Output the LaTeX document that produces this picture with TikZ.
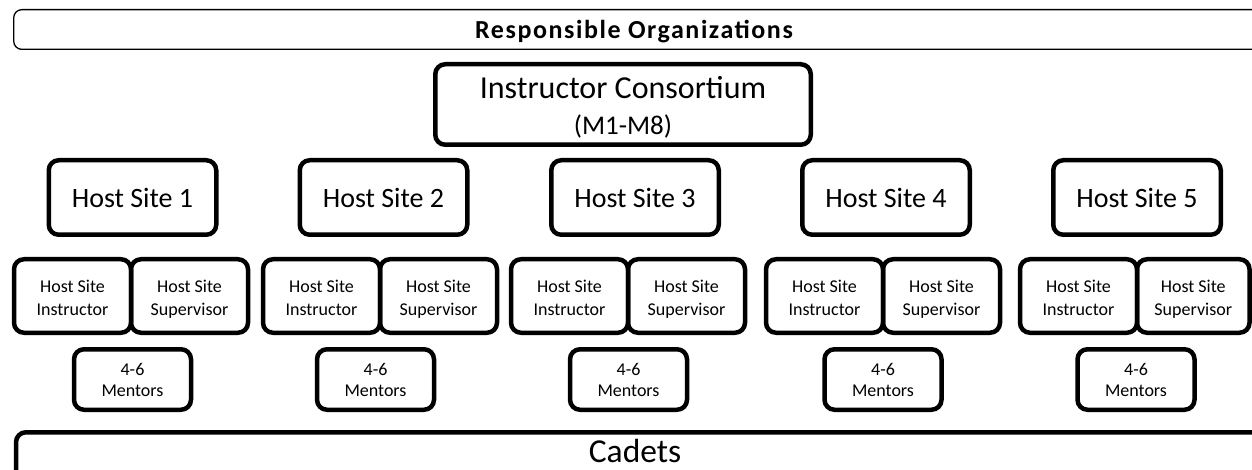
\documentclass[tikz,border=0pt]{standalone}
\usepackage{fontspec}
\setmainfont{Carlito}
\newfontfamily\titlefont[LetterSpace=6]{Carlito}
\begin{document}
\begin{tikzpicture}[x=1pt,y=-1pt,
  box/.style={draw, line width=4.5pt, rounded corners=10pt, inner sep=0pt, align=center},
  sitebox/.style={box, font=\fontsize{28pt}{32pt}\selectfont,
    minimum width=167.5pt, minimum height=74.5pt, text height=24pt, text depth=3pt},
  rolebox/.style={box, font=\fontsize{18pt}{22.3pt}\selectfont,
    minimum width=117pt, minimum height=73.5pt, text height=44pt, text depth=6pt},
  mentorbox/.style={box, font=\fontsize{18pt}{21pt}\selectfont,
    minimum width=117pt, minimum height=60.5pt, text height=38pt, text depth=5pt}]
\useasboundingbox (0,0) rectangle (1252,470);

% top banner
\node[draw, line width=1.3pt, rounded corners=8pt, inner sep=0pt,
      minimum width=1248.5pt, minimum height=39.7pt,
      text height=24pt, text depth=5pt,
      font=\fontsize{26pt}{30pt}\titlefont\bfseries]
  (resp) at (638,29.5) {\hspace*{-8pt}Responsible Organizations};

% consortium
\node[box, minimum width=375.5pt, minimum height=80.5pt,
      text height=66pt, text depth=5pt,
      font=\fontsize{32pt}{36pt}\selectfont] (cons) at (623,104.5)
  {Instructor Consortium\\
   {\fontsize{27pt}{36pt}\selectfont (M1-M8)}};

% host sites
\node[sitebox] (hs1) at (132.5,197.5) {Host Site 1};
\node[sitebox] (hs2) at (383.5,197.5) {Host Site 2};
\node[sitebox] (hs3) at (635,197.5) {Host Site 3};
\node[sitebox] (hs4) at (886,197.5) {Host Site 4};
\node[sitebox] (hs5) at (1137,197.5) {Host Site 5};

% instructors and supervisors
\node[rolebox] (in1) at (72.5,296) {Host Site\\Instructor};
\node[rolebox] (su1) at (189.5,296) {Host Site\\Supervisor};
\node[rolebox] (in2) at (321.5,296) {Host Site\\Instructor};
\node[rolebox] (su2) at (438.5,296) {Host Site\\Supervisor};
\node[rolebox] (in3) at (569.5,296) {Host Site\\Instructor};
\node[rolebox] (su3) at (686.5,296) {Host Site\\Supervisor};
\node[rolebox] (in4) at (824.5,296) {Host Site\\Instructor};
\node[rolebox] (su4) at (941.5,296) {Host Site\\Supervisor};
\node[rolebox] (in5) at (1078.5,296) {Host Site\\Instructor};
\node[rolebox, minimum width=112.5pt] (su5) at (1193.25,296) {Host Site\\Supervisor};

% mentors
\node[mentorbox] (me1) at (132.5,379.5) {4-6\\Mentors};
\node[mentorbox] (me2) at (375.5,379.5) {4-6\\Mentors};
\node[mentorbox] (me3) at (628.5,379.5) {4-6\\Mentors};
\node[mentorbox] (me4) at (883,379.5) {4-6\\Mentors};
\node[mentorbox] (me5) at (1136,379.5) {4-6\\Mentors};

% cadets
\node[box, minimum width=1248pt, minimum height=67.5pt,
      text height=28pt, text depth=36pt,
      font=\fontsize{33.5pt}{38pt}\selectfont] (cad) at (640,466)
  {\hspace*{-10pt}Cadets};
\end{tikzpicture}
\end{document}
